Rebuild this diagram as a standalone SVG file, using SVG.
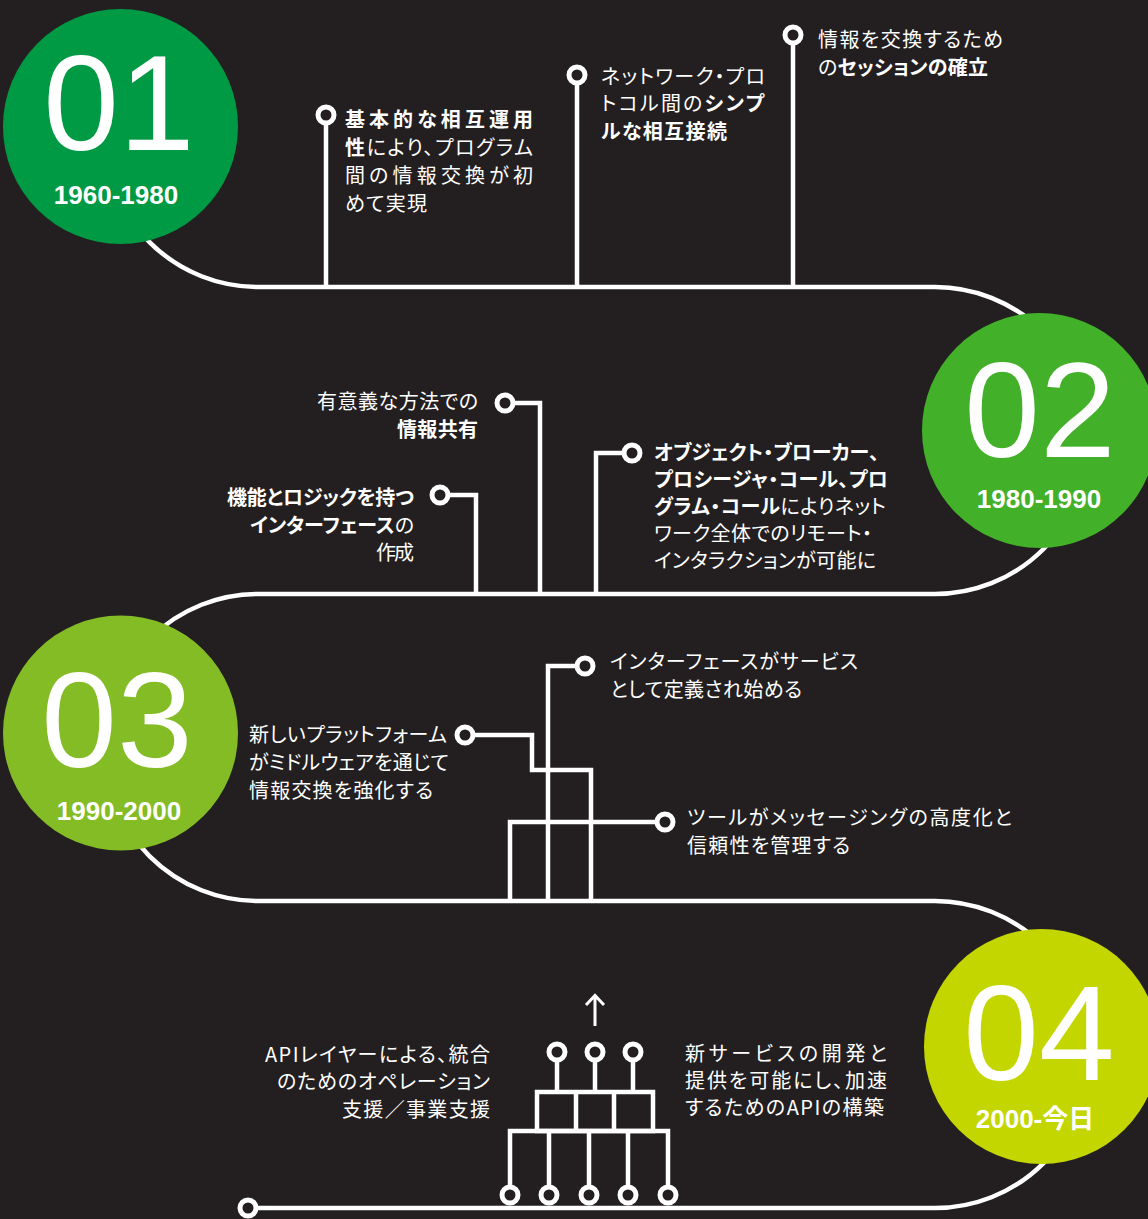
<svg xmlns="http://www.w3.org/2000/svg" width="1148" height="1219" viewBox="0 0 1148 1219">
<defs>
<style>
.bg{fill:#231F20}
.ln{fill:none;stroke:#fff;stroke-width:4.5}
.thin{fill:none;stroke:#fff;stroke-width:3}
.pin{fill:#231F20;stroke:#fff;stroke-width:5}
.t{font-family:"Noto Sans CJK JP","Noto Sans",sans-serif;font-size:20px;fill:#fff;font-feature-settings:"palt"}
.b{font-weight:700}
.num{font-family:"Liberation Sans",Arial,sans-serif;font-size:136px;fill:#fff;text-anchor:middle}
.yr{font-family:"Liberation Sans","Noto Sans CJK JP",sans-serif;font-size:26px;font-weight:700;fill:#fff;text-anchor:middle}
</style>
</defs>
<rect class="bg" x="0" y="0" width="1148" height="1219"/>

<g id="connectors">
<path class="ln" d="M104.5,133.5 A153.5,153.5 0 0 0 258,287 L935,287 A153.5,153.5 0 0 1 935,594 L258,594 A153.5,153.5 0 0 0 258,901 L935,901 A153.5,153.5 0 0 1 935,1208 L248,1208"/>
<path class="ln" d="M326,115 V287 M577,75 V287 M793,35 V287"/>
<path class="ln" d="M505,403 H540 V594 M440,495 H476 V594 M632,453 H596 V594"/>
<path class="ln" d="M465,735 H532 V770 H591 V901 M585,666 H548 V901 M665,822 H510 V901"/>
<path class="ln" d="M557,1052 V1092 M595,1052 V1092 M633,1052 V1092"/>
<path class="ln" d="M537,1092 H653 V1131 H537 Z M576,1092 V1131 M614,1092 V1131"/>
<path class="ln" d="M510,1194 V1131 H668 V1194 M549,1131 V1194 M589,1131 V1194 M628,1131 V1194"/>
<path class="thin" d="M595,1026 V996 M586,1005 L595,995.5 L604,1005"/>
</g>

<g id="era-01">
<circle cx="120.5" cy="126.5" r="117.5" fill="#009A44"/>
<text class="num" x="119" y="150">01</text>
<text class="yr" x="116" y="204">1960-1980</text>
</g>
<g id="era-02">
<circle cx="1039.5" cy="430.5" r="117.5" fill="#43B02A"/>
<text class="num" x="1040" y="456.5">02</text>
<text class="yr" x="1039" y="508">1980-1990</text>
</g>
<g id="era-03">
<circle cx="120.5" cy="733" r="117.5" fill="#84BC26"/>
<text class="num" x="117" y="767">03</text>
<text class="yr" x="119" y="820">1990-2000</text>
</g>
<g id="era-04">
<circle cx="1041.5" cy="1046.5" r="117.5" fill="#C4D600"/>
<text class="num" x="1039" y="1080">04</text>
<text class="yr" x="1035" y="1128">2000-今日</text>
</g>

<g id="m1-interop">
<circle class="pin" cx="326" cy="115" r="8"/>
<text class="t" x="345" y="127" textLength="188"><tspan class="b">基本的な相互運用</tspan></text>
<text class="t" x="345" y="155" textLength="188"><tspan class="b">性</tspan>により、プログラム</text>
<text class="t" x="345" y="183" textLength="188">間の情報交換が初</text>
<text class="t" x="345" y="210.5" textLength="82">めて実現</text>
</g>
<g id="m1-protocol">
<circle class="pin" cx="577" cy="75" r="8"/>
<text class="t" x="601" y="84" textLength="164">ネットワーク・プロ</text>
<text class="t" x="601" y="111" textLength="163">トコル間の<tspan class="b">シンプ</tspan></text>
<text class="t" x="601" y="139" textLength="126"><tspan class="b">ルな相互接続</tspan></text>
</g>
<g id="m1-session">
<circle class="pin" cx="793" cy="35" r="8"/>
<text class="t" x="818" y="47" textLength="185">情報を交換するため</text>
<text class="t" x="818" y="75" textLength="170">の<tspan class="b">セッションの確立</tspan></text>
</g>

<g id="m2-sharing">
<circle class="pin" cx="505" cy="403" r="8"/>
<text class="t" x="317" y="409" textLength="161">有意義な方法での</text>
<text class="t" x="397" y="437" textLength="81"><tspan class="b">情報共有</tspan></text>
</g>
<g id="m2-interface">
<circle class="pin" cx="440" cy="495" r="8"/>
<text class="t" x="227" y="505" textLength="187"><tspan class="b">機能とロジックを持つ</tspan></text>
<text class="t" x="250" y="533" textLength="164"><tspan class="b">インターフェース</tspan>の</text>
<text class="t" x="376" y="560" textLength="38">作成</text>
</g>
<g id="m2-remote">
<circle class="pin" cx="632" cy="453" r="8"/>
<text class="t" x="654" y="460" textLength="225"><tspan class="b">オブジェクト・ブローカー、</tspan></text>
<text class="t" x="654" y="487" textLength="234"><tspan class="b">プロシージャ・コール、プロ</tspan></text>
<text class="t" x="654" y="514" textLength="232"><tspan class="b">グラム・コール</tspan>によりネット</text>
<text class="t" x="654" y="541" textLength="218">ワーク全体でのリモート・</text>
<text class="t" x="654" y="568" textLength="222">インタラクションが可能に</text>
</g>

<g id="m3-middleware">
<circle class="pin" cx="465" cy="735" r="8"/>
<text class="t" x="249" y="742" textLength="198">新しいプラットフォーム</text>
<text class="t" x="249" y="770" textLength="200">がミドルウェアを通じて</text>
<text class="t" x="249" y="798" textLength="184">情報交換を強化する</text>
</g>
<g id="m3-service">
<circle class="pin" cx="585" cy="666" r="8"/>
<text class="t" x="610" y="669" textLength="248">インターフェースがサービス</text>
<text class="t" x="610" y="697" textLength="192">として定義され始める</text>
</g>
<g id="m3-messaging">
<circle class="pin" cx="665" cy="822" r="8"/>
<text class="t" x="687" y="825" textLength="325">ツールがメッセージングの高度化と</text>
<text class="t" x="687" y="853" textLength="163">信頼性を管理する</text>
</g>

<g id="m4-api">
<circle class="pin" cx="557" cy="1052" r="8"/>
<circle class="pin" cx="595" cy="1052" r="8"/>
<circle class="pin" cx="633" cy="1052" r="8"/>
<circle class="pin" cx="510" cy="1195" r="8"/>
<circle class="pin" cx="549" cy="1195" r="8"/>
<circle class="pin" cx="589" cy="1195" r="8"/>
<circle class="pin" cx="628" cy="1195" r="8"/>
<circle class="pin" cx="668" cy="1195" r="8"/>
<circle class="pin" cx="248" cy="1208" r="8"/>
<text class="t" x="265" y="1062" textLength="225">APIレイヤーによる、統合</text>
<text class="t" x="277" y="1089" textLength="213">のためのオペレーション</text>
<text class="t" x="342" y="1117" textLength="148">支援／事業支援</text>
<text class="t" x="685" y="1061" textLength="202">新サービスの開発と</text>
<text class="t" x="685" y="1088" textLength="202">提供を可能にし、加速</text>
<text class="t" x="685" y="1115" textLength="199">するためのAPIの構築</text>
</g>
</svg>
